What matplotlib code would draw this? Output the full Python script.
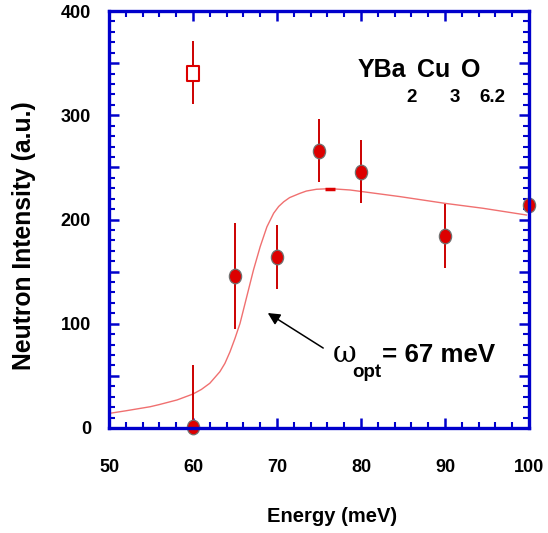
import matplotlib
matplotlib.use("Agg")
import matplotlib.pyplot as plt
import numpy as np
from matplotlib.path import Path
from matplotlib.transforms import Affine2D
from matplotlib.ticker import MultipleLocator

# ---------------- data ----------------
energy = [60, 65, 70, 75, 80, 90, 100]
intensity = [1, 146, 164, 266, 246, 184, 214]
intensity_err = [59, 51, 31, 30, 30, 31, 30]

open_energy = [60]
open_intensity = [341]
open_err = [30]

fit_energy = [50.1, 52.0, 54.9, 56.0, 58.1, 60.0, 61.0, 62.0, 63.2, 63.8, 64.4, 65.0,
              65.6, 66.4, 67.2, 68.0, 68.8, 69.6, 70.2, 70.8, 71.5, 72.7, 73.5, 74.7,
              76.3, 78.7, 84.6, 90.0, 94.5, 99.7]
fit_intensity = [14.1, 16.5, 20.4, 22.5, 26.9, 32.6, 37.0, 42.9, 54.0, 62.0, 73.0, 86.0,
                 100.4, 126.0, 151.6, 174.0, 193.0, 206.0, 212.5, 217.0, 221.0, 225.0,
                 227.3, 229.0, 229.6, 228.3, 222.0, 215.5, 210.8, 204.3]

peak_energy = [75.7, 76.9]
peak_intensity = [229.5, 229.5]

xticklabels = ["50", "60", "70", "80", "90", "100"]
yticklabels = ["0", "100", "200", "300", "400"]

# ---------------- style ----------------
W, H, DPI = 548, 533, 100
BLUE = "#0000cc"
RED = "#dd0000"
FONT = ["Liberation Sans", "DejaVu Sans"]
plt.rcParams["font.family"] = FONT

fig = plt.figure(figsize=(W / DPI, H / DPI), dpi=DPI)
ax = fig.add_axes([109 / W, 1 - 428 / H, 420 / W, 417 / H])

ax.set_xlim(50, 100)
ax.set_ylim(0, 400)

# fit curve
ax.plot(fit_energy, fit_intensity, color="#f07070", lw=1.0, zorder=2)
ax.plot(peak_energy, peak_intensity, color=RED, lw=2.5, solid_capstyle="butt", zorder=2)

# error bars
ax.errorbar(energy, intensity, yerr=intensity_err, fmt="none", ecolor="#cc0000",
            elinewidth=1.4, capsize=0, zorder=3)
ax.errorbar(open_energy, open_intensity, yerr=open_err, fmt="none", ecolor="#cc0000",
            elinewidth=1.4, capsize=0, zorder=3)

# elliptical marker
ell = Path.unit_circle().transformed(Affine2D().scale(0.84, 1.0))
ax.plot(energy, intensity, linestyle="none", marker=ell, markersize=10.5,
        markerfacecolor=RED, markeredgecolor="#707070", markeredgewidth=0.9,
        zorder=4, clip_on=False)

rect = Path([(-0.4, -0.5), (0.4, -0.5), (0.4, 0.5), (-0.4, 0.5), (-0.4, -0.5)],
            [Path.MOVETO, Path.LINETO, Path.LINETO, Path.LINETO, Path.CLOSEPOLY])
ax.plot(open_energy, open_intensity, linestyle="none", marker=rect, markersize=10.8,
        markerfacecolor="white", markeredgecolor=RED, markeredgewidth=1.5, zorder=4)

# axes styling
for s in ax.spines.values():
    s.set_color(BLUE)
    s.set_linewidth(2.4)
    s.set_zorder(5)

ax.xaxis.set_minor_locator(MultipleLocator(2))
ax.yaxis.set_minor_locator(MultipleLocator(10))
ax.tick_params(which="both", direction="in", top=True, right=True, color=BLUE)
ax.tick_params(which="major", length=7.5, width=1.8)
ax.tick_params(which="minor", length=4.0, width=1.5)
ax.tick_params(axis="x", which="major", pad=22)
ax.tick_params(axis="y", which="major", pad=13)

ax.set_xticks([50, 60, 70, 80, 90, 100])
ax.set_xticklabels(xticklabels, fontsize=13, fontweight="bold")
yt = [0, 50, 100, 150, 200, 250, 300, 350, 400]
ax.set_yticks(yt)
ax.set_yticklabels([str(v) if str(v) in yticklabels else "" for v in yt],
                   fontsize=13, fontweight="bold")

ax.set_xlabel("Energy (meV)", fontsize=14.5, fontweight="bold")
ax.xaxis.set_label_coords((332 - 109) / 420, -(517 - 428) / 417)
ax.xaxis.label.set_va("center")
ax.set_ylabel("Neutron Intensity (a.u.)", fontsize=17.8, fontweight="bold")
ax.yaxis.set_label_coords(-(109 - 24) / 420, (428 - 236) / 417)
ax.yaxis.label.set_va("center")

# ---------- composed texts (positions in image pixels) ----------
fig.canvas.draw()
renderer = fig.canvas.get_renderer()


def compose(x0, base, pieces):
    x = x0
    for s, size, dy, dx, kw in pieces:
        t = fig.text((x + dx) / W, 1 - (base + dy) / H, s, fontsize=size, ha="left",
                     va="baseline", **kw)
        x += dx + t.get_window_extent(renderer).width


bold = {"fontweight": "bold"}
compose(358, 76.7, [
    ("YBa", 18, 0, 0, bold), ("2", 13.5, 25.0, 0, bold),
    ("Cu", 18, 0, 0, bold), ("3", 13.5, 25.0, 0, bold),
    ("O", 18, 0, 0, bold), ("6.2", 13.5, 25.0, 0, bold),
])

compose(333, 362, [
    ("ω", 21, 0, 0, {"family": ["DejaVu Serif"]}),
    ("opt", 13.5, 15, -4, bold),
    ("= 67 meV", 18.6, 0, 0, bold),
])

ax.annotate("", xy=(68.9, 110.3), xytext=(75.5, 76.7),
            arrowprops=dict(arrowstyle="-|>", color="black", lw=1.1,
                            mutation_scale=18, shrinkA=0, shrinkB=0))

fig.savefig("out.png", dpi=DPI)
